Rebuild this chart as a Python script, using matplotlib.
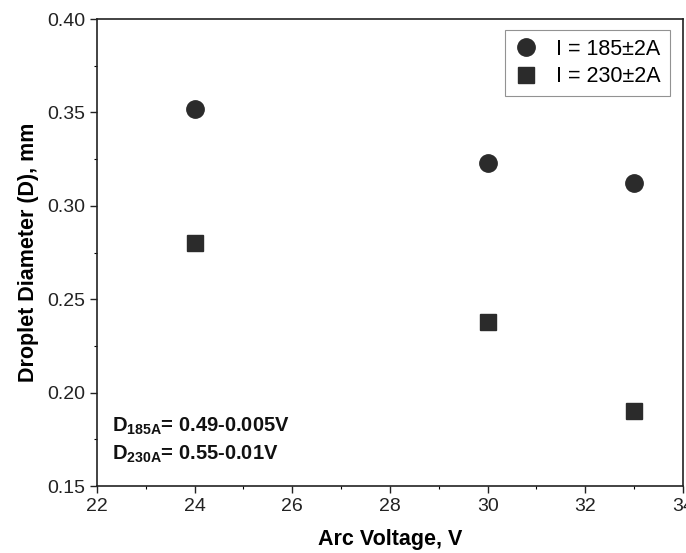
import matplotlib.pyplot as plt
from matplotlib.ticker import MultipleLocator

plt.rcParams['font.family'] = ['Liberation Sans', 'DejaVu Sans']

# data
voltage = [24, 30, 33]
d_185 = [0.352, 0.323, 0.312]
d_230 = [0.280, 0.238, 0.190]

fig = plt.figure(figsize=(6.86, 5.53), dpi=100)
ax = fig.add_axes([0.1414, 0.121, 0.8542, 0.8446])

ax.plot(voltage, d_185, 'o', color='#2b2b2b', markersize=12.5, label='I = 185±2A')
ax.plot(voltage, d_230, 's', color='#2b2b2b', markersize=11, label='I = 230±2A')

ax.set_xlim(22, 34)
ax.set_ylim(0.15, 0.40)
ax.xaxis.set_major_locator(MultipleLocator(2))
ax.xaxis.set_minor_locator(MultipleLocator(1))
ax.yaxis.set_major_locator(MultipleLocator(0.05))
ax.yaxis.set_minor_locator(MultipleLocator(0.025))
ax.yaxis.set_major_formatter(plt.FormatStrFormatter('%.2f'))
ax.tick_params(which='major', direction='out', length=5, width=1, labelsize=14, colors='#222222')
ax.tick_params(which='minor', direction='out', length=2.5, width=0.8)
for s in ax.spines.values():
    s.set_linewidth(1.2)
    s.set_color('#222222')

ax.set_xlabel('Arc Voltage, V', fontsize=15.5, fontweight='bold', labelpad=10)
ax.set_ylabel('Droplet Diameter (D), mm', fontsize=15.5, fontweight='bold', labelpad=6)

leg = ax.legend(loc='upper right', bbox_to_anchor=(0.977, 0.976), borderaxespad=0,
                fontsize=15.5, frameon=True, fancybox=False, edgecolor='#777777',
                handlelength=1.2, handletextpad=0.8, borderpad=0.4, labelspacing=0.3)
leg.get_frame().set_linewidth(0.8)

ax.text(0.026, 0.1156, r'D$_{\mathregular{185A}}$= 0.49-0.005V', transform=ax.transAxes,
        fontsize=14.5, fontweight='bold', color='#111111', va='baseline')
ax.text(0.026, 0.0557, r'D$_{\mathregular{230A}}$= 0.55-0.01V', transform=ax.transAxes,
        fontsize=14.5, fontweight='bold', color='#111111', va='baseline')

fig.savefig('out.png', dpi=100)
